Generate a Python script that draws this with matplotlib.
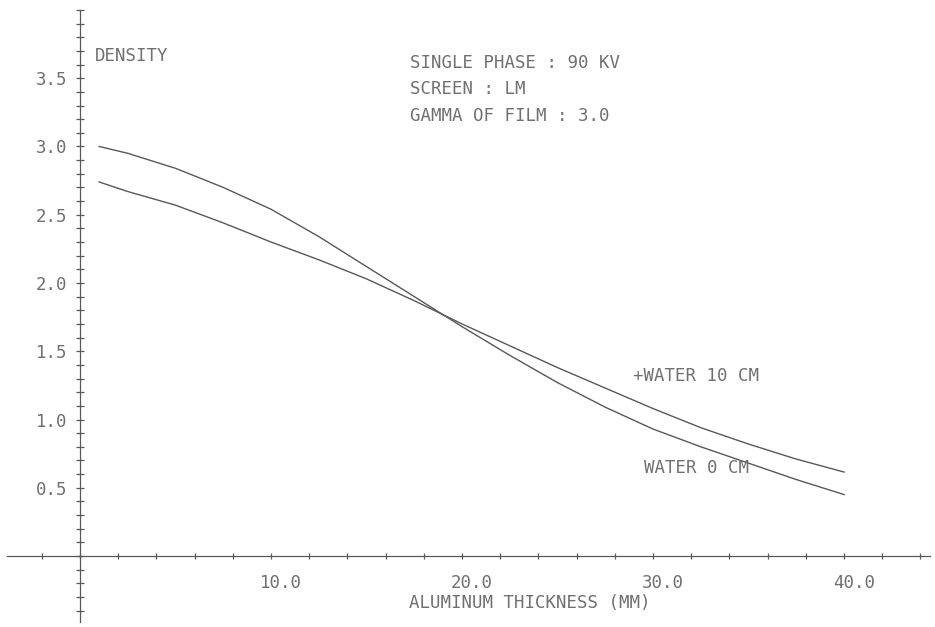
import matplotlib
matplotlib.use("Agg")
import matplotlib.pyplot as plt
from matplotlib.ticker import FixedLocator, NullFormatter
from matplotlib.transforms import ScaledTranslation
import numpy as np

thickness = [1, 2.5, 5, 7.5, 10, 12.5, 15, 17.5, 20, 22.5, 25, 27.5, 30, 32.5, 35, 37.5, 40]
water_0cm = [3.00, 2.95, 2.84, 2.70, 2.54, 2.34, 2.12, 1.90, 1.68, 1.47, 1.27, 1.09, 0.93, 0.80, 0.68, 0.56, 0.45]
water_10cm = [2.74, 2.67, 2.57, 2.44, 2.30, 2.17, 2.03, 1.87, 1.70, 1.54, 1.38, 1.23, 1.08, 0.94, 0.82, 0.71, 0.615]

x_major = [10, 20, 30, 40]
x_minor = [-2, 0, 2, 4, 6, 8, 12, 14, 16, 18, 22, 24, 26, 28, 32, 34, 36, 38, 42, 44]
y_major = [0.5, 1.0, 1.5, 2.0, 2.5, 3.0, 3.5]
notes = ["SINGLE PHASE : 90 KV", "SCREEN : LM", "GAMMA OF FILM : 3.0"]

ink = "#585858"
txt = "#707070"
font = dict(family="DejaVu Sans Mono", size=12.5, color=txt)

fig = plt.figure(figsize=(9.35, 6.27), dpi=100)
ax = fig.add_axes([0, 0, 1, 1])
ax.set_xlim(-4.19, 44.76)
ax.set_ylim(-0.52, 4.073)

ax.plot(thickness, water_0cm, color=ink, lw=1.0)
ax.plot(thickness, water_10cm, color=ink, lw=1.0)

# axes crossing at the origin, plotter style
for side in ["top", "right"]:
    ax.spines[side].set_visible(False)
ax.spines["left"].set_position(("data", 0))
ax.spines["bottom"].set_position(("data", 0))
ax.spines["left"].set_bounds(-0.48, 4.0)
ax.spines["bottom"].set_bounds(-3.8, 44.5)
for side in ["left", "bottom"]:
    ax.spines[side].set_color(ink)
    ax.spines[side].set_linewidth(0.9)

y_minor = [v for v in np.round(np.arange(-0.4, 4.01, 0.1), 1) if v not in y_major]
ax.xaxis.set_major_locator(FixedLocator(x_major))
ax.xaxis.set_minor_locator(FixedLocator(x_minor))
ax.yaxis.set_major_locator(FixedLocator(y_major))
ax.yaxis.set_minor_locator(FixedLocator(y_minor))
ax.set_xticklabels([f"{v:.1f}" for v in x_major], fontdict=font)
ax.set_yticklabels([f"{v:.1f}" for v in y_major], fontdict=font)
ax.xaxis.set_minor_formatter(NullFormatter())
ax.yaxis.set_minor_formatter(NullFormatter())
ax.tick_params(axis="x", which="both", direction="inout", length=4.5, width=0.9,
               color=ink, pad=11)
ax.tick_params(axis="y", which="both", direction="inout", length=6, width=0.9,
               color=ink, pad=6)
for lab in ax.get_xticklabels():
    lab.set_transform(lab.get_transform() + ScaledTranslation(10 / 100, 0, fig.dpi_scale_trans))

ax.text(0.8, 3.66, "DENSITY", va="center", ha="left", **font)
for note, yy in zip(notes, [3.61, 3.42, 3.22]):
    ax.text(17.3, yy, note, va="center", ha="left", **font)
ax.text(28.95, 1.32, "+WATER 10 CM", va="center", ha="left", **font)
ax.text(29.5, 0.645, "WATER 0 CM", va="center", ha="left", **font)
ax.text(17.2, -0.344, "ALUMINUM THICKNESS (MM)", va="center", ha="left", **font)

fig.savefig("out.png", dpi=100)
